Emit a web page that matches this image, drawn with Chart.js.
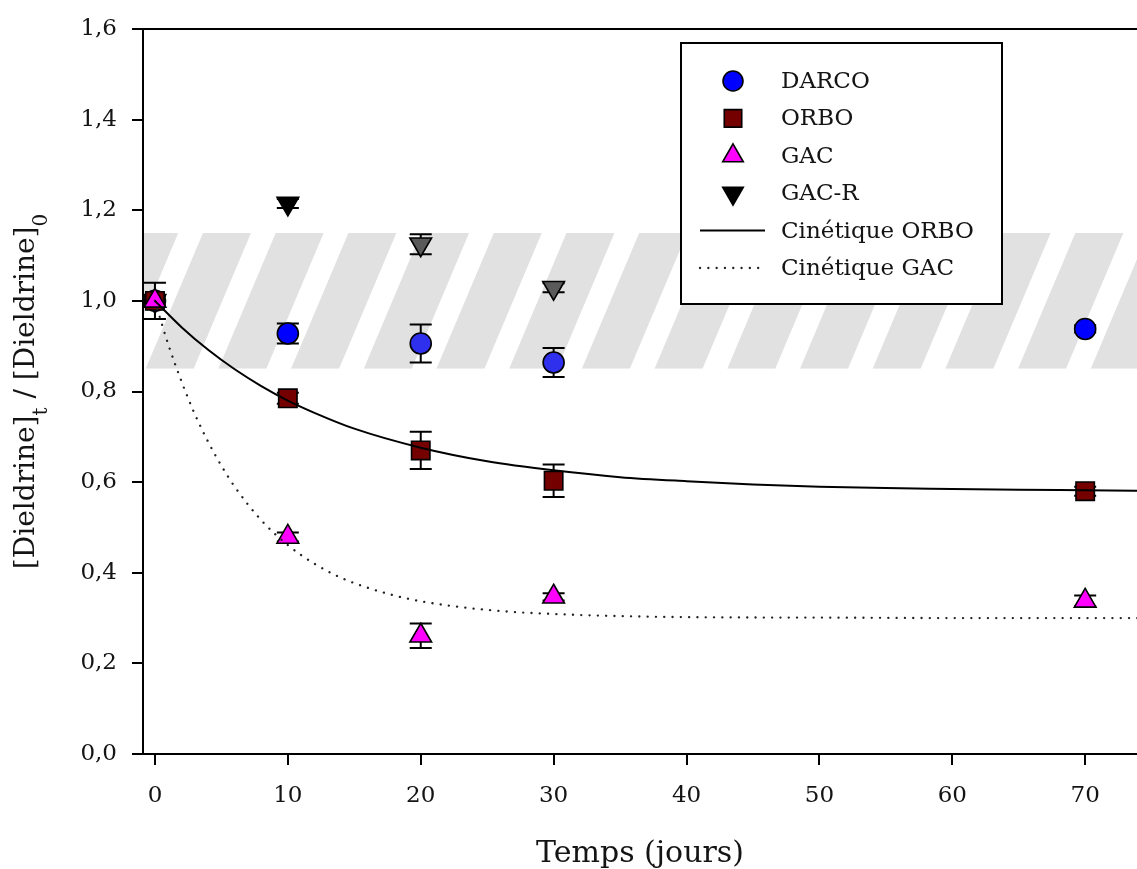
<!DOCTYPE html>
<html><head><meta charset="utf-8">
<script src="https://cdn.jsdelivr.net/npm/chart.js@4.4.1/dist/chart.umd.min.js"></script>
<style>html,body{margin:0;padding:0;background:#fff;overflow:hidden}</style>
</head><body>
<canvas id="c" width="1137" height="869"></canvas>
<script>
// ---- data ----
const days = [0, 10, 20, 30, 70];
const darco = [1.0, 0.928, 0.906, 0.864, 0.938];
const darcoErr = [0.04, 0.022, 0.042, 0.032, 0.008];
const orbo = [1.0, 0.785, 0.670, 0.603, 0.580];
const orboErr = [0.012, 0.012, 0.041, 0.036, 0.010];
const gac = [1.0, 0.479, 0.261, 0.347, 0.338];
const gacErr = [0.01, 0.01, 0.027, 0.008, 0.012];
const gacRDays = [0, 10, 20, 30];
const gacR = [1.0, 1.215, 1.125, 1.029];
const gacRErr = [0.01, 0.01, 0.022, 0.01];
const kinOrboT = [0, 2, 4, 6, 8, 10, 12, 15, 20, 25, 30, 35, 40, 45, 50, 55, 60, 65, 70, 74];
const kinOrbo = [1.0, 0.942, 0.892, 0.849, 0.812, 0.780, 0.753, 0.718, 0.676, 0.646, 0.626, 0.611, 0.602, 0.595, 0.590, 0.587, 0.585, 0.583, 0.582, 0.581];
const kinGacT = [0, 1, 2, 3, 4, 5, 6, 8, 10, 12, 14, 16, 18, 20, 25, 30, 40, 50, 60, 74];
const kinGac = [1.0, 0.904, 0.822, 0.750, 0.689, 0.636, 0.590, 0.516, 0.461, 0.420, 0.389, 0.367, 0.350, 0.337, 0.318, 0.309, 0.302, 0.301, 0.300, 0.300];
const bandLow = 0.85, bandHigh = 1.15;
const xTicks = [0, 10, 20, 30, 40, 50, 60, 70];
const xTickLabels = ['0', '10', '20', '30', '40', '50', '60', '70'];
const yTicks = [0, 0.2, 0.4, 0.6, 0.8, 1.0, 1.2, 1.4, 1.6];
const yTickLabels = ['0,0', '0,2', '0,4', '0,6', '0,8', '1,0', '1,2', '1,4', '1,6'];
const xTitle = 'Temps (jours)';
const yTitleParts = [['[Dieldrine]', 0], ['t', 1], [' / [Dieldrine]', 0], ['0', 1]];
const legendOrder = ['DARCO', 'ORBO', 'GAC', 'GAC-R', 'Cinétique ORBO', 'Cinétique GAC'];

// ---- styles ----
const FONT = "'DejaVu Serif', serif";
const TXT = '#141414';
const pts = (xs, ys) => xs.map((x, i) => ({x: x, y: ys[i]}));

const markerDs = (label, xs, ys, err, style, r, fill, order, rot) => ({
  label, data: pts(xs, ys), err, showLine: false, pointStyle: style, pointRadius: r,
  pointRotation: rot || 0, pointBackgroundColor: fill, pointBorderColor: '#000',
  pointBorderWidth: 1.6, order
});

const datasets = [
  markerDs('DARCO', days, darco, darcoErr, 'circle', 10.5, ['#0000ff', '#0000ff', '#2f2fee', '#2f2fee', '#0000ff'], 4),
  markerDs('ORBO', days, orbo, orboErr, 'rect', 13, '#750000', 3),
  markerDs('GAC', days, gac, gacErr, 'triangle', 12.5, '#ff00ff', 2),
  markerDs('GAC-R', gacRDays, gacR, gacRErr, 'triangle', 12.5, ['#000000', '#000000', '#5a5a5a', '#5a5a5a'], 5, 180),
  {label: 'Cinétique ORBO', data: pts(kinOrboT, kinOrbo), showLine: true, pointRadius: 0,
   borderColor: '#000', borderWidth: 2, cubicInterpolationMode: 'monotone', order: 0},
  {label: 'Cinétique GAC', data: pts(kinGacT, kinGac), showLine: true, pointRadius: 0,
   borderColor: '#222', borderWidth: 2.3, borderDash: [0.1, 8.2], borderCapStyle: 'round',
   cubicInterpolationMode: 'monotone', order: 1}
];

const backdrop = {
  id: 'backdrop',
  beforeDatasetsDraw(chart) {
    const {ctx, chartArea: ca, scales: {x, y}} = chart;
    // hatched band
    const top = y.getPixelForValue(bandHigh), bot = y.getPixelForValue(bandLow);
    ctx.save();
    ctx.beginPath(); ctx.rect(ca.left + 1, top, ca.right - ca.left, bot - top); ctx.clip();
    ctx.fillStyle = '#e1e1e1';
    const period = 72.7, w = 48, dx = (bot - top) * 0.422;
    for (let xs = ca.left + 60 - 3 * period; xs < ca.right + dx + period; xs += period) {
      ctx.beginPath();
      ctx.moveTo(xs, top); ctx.lineTo(xs + w, top);
      ctx.lineTo(xs + w - dx, bot); ctx.lineTo(xs - dx, bot); ctx.closePath(); ctx.fill();
    }
    ctx.restore();
    // top frame line
    ctx.save();
    ctx.strokeStyle = '#000'; ctx.lineWidth = 2;
    ctx.beginPath(); ctx.moveTo(ca.left, ca.top); ctx.lineTo(ca.right, ca.top); ctx.stroke();
    ctx.restore();
    // error bars
    ctx.save();
    ctx.strokeStyle = '#000'; ctx.lineWidth = 2;
    chart.data.datasets.forEach(ds => {
      if (!ds.err) return;
      ds.data.forEach((p, i) => {
        const e = ds.err[i];
        const px = x.getPixelForValue(p.x);
        const y1 = y.getPixelForValue(p.y + e), y2 = y.getPixelForValue(p.y - e);
        ctx.beginPath();
        ctx.moveTo(px, y1); ctx.lineTo(px, y2);
        ctx.moveTo(px - 11, y1); ctx.lineTo(px + 11, y1);
        ctx.moveTo(px - 11, y2); ctx.lineTo(px + 11, y2);
        ctx.stroke();
      });
    });
    ctx.restore();
  }
};

const overlay = {
  id: 'overlay',
  afterDraw(chart) {
    const {ctx, chartArea: ca} = chart;
    // y-axis title with subscripts
    ctx.save();
    const cy = (ca.top + ca.bottom) / 2;
    ctx.translate(34, cy);
    ctx.rotate(-Math.PI / 2);
    ctx.fillStyle = TXT;
    ctx.textBaseline = 'alphabetic';
    ctx.textAlign = 'left';
    const mainF = '28px ' + FONT, subF = '20px ' + FONT;
    let total = 0;
    yTitleParts.forEach(([t, s]) => { ctx.font = s ? subF : mainF; total += ctx.measureText(t).width; });
    let cx = -total / 2;
    yTitleParts.forEach(([t, s]) => {
      ctx.font = s ? subF : mainF;
      ctx.fillText(t, cx, s ? 13 : 0);
      cx += ctx.measureText(t).width;
    });
    ctx.restore();

    // legend
    const bx = ca.left + 538, by = ca.top + 14, bw = 321, bh = 261;
    ctx.save();
    ctx.fillStyle = '#fff';
    ctx.fillRect(bx, by, bw, bh);
    ctx.strokeStyle = '#000'; ctx.lineWidth = 2;
    ctx.strokeRect(bx, by, bw, bh);
    ctx.font = '23px ' + FONT;
    ctx.textBaseline = 'middle';
    ctx.textAlign = 'left';
    legendOrder.forEach((name, i) => {
      const ds = chart.data.datasets.find(d => d.label === name);
      const ry = by + 38 + i * 37.4;
      const mx = bx + 52;
      if (ds.showLine) {
        ctx.save();
        ctx.strokeStyle = ds.borderColor; ctx.lineWidth = ds.borderWidth;
        ctx.setLineDash(ds.borderDash || []);
        ctx.lineCap = ds.borderCapStyle || 'butt';
        ctx.beginPath(); ctx.moveTo(bx + 19, ry); ctx.lineTo(bx + 84, ry); ctx.stroke();
        ctx.restore();
      } else {
        ctx.save();
        const fill = Array.isArray(ds.pointBackgroundColor) ? ds.pointBackgroundColor[0] : ds.pointBackgroundColor;
        ctx.fillStyle = fill; ctx.strokeStyle = ds.pointBorderColor; ctx.lineWidth = ds.pointBorderWidth;
        Chart.helpers.drawPoint(ctx, {pointStyle: ds.pointStyle, radius: ds.pointRadius * 0.95,
          rotation: ds.pointRotation, borderWidth: ds.pointBorderWidth}, mx, ry);
        ctx.restore();
      }
      ctx.fillStyle = TXT;
      ctx.fillText(name, bx + 100, ry + 1);
    });
    ctx.restore();
  }
};

new Chart(document.getElementById('c'), {
  type: 'scatter',
  data: {datasets},
  options: {
    responsive: false,
    animation: false,
    events: [],
    layout: {autoPadding: false, padding: {top: 29, right: 0, left: 0, bottom: 0}},
    plugins: {legend: {display: false}, tooltip: {enabled: false}},
    scales: {
      x: {
        type: 'linear', min: -0.9, max: 73.9,
        afterBuildTicks: s => { s.ticks = xTicks.map(v => ({value: v})); },
        afterFit: s => { s.height = 115; s.paddingRight = 0; s.paddingLeft = 0; },
        ticks: {callback: (v, i) => xTickLabels[i], font: {family: FONT, size: 23}, color: TXT, padding: 17, maxRotation: 0, autoSkip: false},
        grid: {display: true, drawOnChartArea: false, drawTicks: true, tickLength: 11, color: '#000', lineWidth: 2},
        border: {display: true, color: '#000', width: 2},
        title: {display: true, text: xTitle, font: {family: FONT, size: 30, lineHeight: 1}, color: TXT, padding: {top: 0, bottom: 0}}
      },
      y: {
        type: 'linear', min: 0, max: 1.6,
        afterBuildTicks: s => { s.ticks = yTicks.map(v => ({value: v})); },
        afterFit: s => { s.width = 143; },
        ticks: {callback: (v, i) => yTickLabels[i], font: {family: FONT, size: 23}, color: TXT, padding: 15, autoSkip: false},
        grid: {display: true, drawOnChartArea: false, drawTicks: true, tickLength: 11, color: '#000', lineWidth: 2},
        border: {display: true, color: '#000', width: 2}
      }
    }
  },
  plugins: [backdrop, overlay]
});
</script>
</body></html>
